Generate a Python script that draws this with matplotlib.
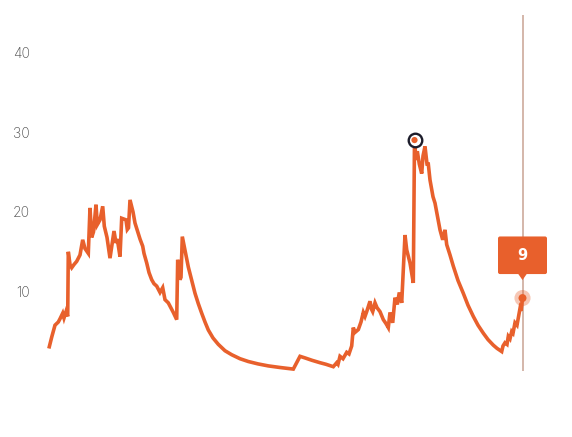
import matplotlib
matplotlib.use("Agg")
import matplotlib.pyplot as plt
from matplotlib.patches import FancyBboxPatch, Polygon
from matplotlib.transforms import IdentityTransform
import numpy as np

# ---- data (day index, value) ----
day = [0.3, 2.7, 6, 9.3, 11, 13.7, 15, 17, 18.7, 19.3, 21, 22.7, 25, 27.7, 31, 33.7, 36, 39.3,
       41, 42.7, 44.5, 47, 48.3, 51, 53.7, 55.3, 58, 61, 65, 67, 68.3, 71, 72.7, 77, 78.3,
       79.5, 81, 84, 86, 88, 91, 93.7, 95, 97.7, 100, 102.7, 105, 107.7, 111, 113.7, 116,
       119.3, 124.3, 127.7, 128.7, 131, 132, 133.3, 136, 139.3, 142.7, 146, 149.3, 152.7,
       156, 159.3, 164, 169.3, 176, 182.7, 191, 199.3, 209, 219.3, 231, 244.3, 251, 256,
       263, 271, 277, 284.3, 287.7, 289, 291, 294, 297.7, 300, 302.7, 304.3, 306, 309.3,
       312, 314.3, 316, 317.7, 319.5, 321, 322.5, 323.7, 326, 328, 331, 334.3, 337, 339.3,
       341, 343.7, 346, 348.3, 350.3, 352.7, 356, 357.7, 361, 364.3, 365.5, 367, 368.3,
       370.3, 372.7, 374, 376, 378, 379.3, 381, 384, 386, 391, 393.7, 396, 397.7, 401,
       404.3, 409, 414.3, 419, 424.3, 429, 434.3, 439, 444.3, 448, 452.7, 454, 456, 458,
       459.3, 461, 462.7, 464, 466, 468, 469.3, 471, 472, 473.5]
price = [3.1, 4.3, 5.8, 6.2, 6.6, 7.3, 6.7, 7.5, 6.9, 15.0, 13.4, 13.0, 13.4, 13.8, 14.6,
         16.5, 15.4, 14.8, 20.5, 16.8, 17.5, 20.9, 18.4, 19.0, 20.7, 18.2, 16.8, 14.2, 17.6,
         16.1, 16.6, 14.4, 19.2, 19.0, 17.8, 18.0, 21.5, 20.0, 18.6, 17.8, 16.6, 15.7, 14.8,
         13.6, 12.4, 11.5, 11.0, 10.7, 9.9, 10.5, 9.0, 8.6, 7.4, 6.5, 14.0, 11.5, 11.8, 16.9,
         15.2, 13.1, 11.4, 9.8, 8.5, 7.3, 6.2, 5.2, 4.2, 3.4, 2.6, 2.1, 1.6, 1.25, 0.95, 0.7,
         0.5, 0.3, 1.9, 1.7, 1.4, 1.1, 0.9, 0.6, 1.1, 0.9, 1.9, 1.6, 2.4, 2.2, 3.2, 5.5, 4.9,
         5.25, 6.2, 7.4, 6.9, 7.5, 8.2, 8.8, 7.8, 7.5, 8.6, 8.0, 7.5, 6.5, 6.0, 5.5, 7.4, 6.1,
         9.25, 8.4, 9.9, 8.6, 17.1, 15.25, 13.6, 11.1, 29.0, 26.5, 27.6, 26.0, 24.8, 27.0,
         28.2, 26.0, 26.0, 24.0, 21.9, 21.1, 17.75, 16.5, 17.75, 15.9, 14.6, 13.2, 11.4, 9.8,
         8.3, 6.9, 5.8, 4.8, 4.0, 3.3, 2.9, 2.5, 3.2, 3.6, 3.4, 4.4, 4.1, 5.0, 4.8, 6.1, 5.8,
         6.7, 7.9, 7.6, 9.2]
yticks = [10, 20, 30, 40]
tooltip_label = "9"

ORANGE = "#E8602C"
DARK = "#1d1d2b"
TAN = "#c9a393"

fig = plt.figure(figsize=(5.72, 4.37), dpi=100)
ax = fig.add_axes([0, 0, 1, 1])
ax.set_xlim(-49, 523)
ax.set_ylim(-8.21, 46.55)
for s in ax.spines.values():
    s.set_visible(False)
ax.set_xticks([])
ax.set_yticks(yticks)
ax.set_yticklabels([str(t) for t in yticks], family="Inter", fontsize=10,
                   color="#4a4a4a", fontweight="light")
ax.tick_params(axis="y", length=0, pad=-21.6)
ax.set_facecolor("white")

x = np.array(day)
y = np.array(price)

# vertical hover line at last point
ax.vlines(x[-1], 0, 44.7, color=TAN, linewidth=1.1, zorder=1)

ax.plot(x, y, color=ORANGE, linewidth=2.6, solid_joinstyle="miter", zorder=3)

# peak marker
i_max = int(np.argmax(y))
ax.scatter([x[i_max]], [y[i_max]], s=95, facecolor="white", edgecolor=DARK,
           linewidth=1.7, zorder=5)
ax.scatter([x[i_max]], [y[i_max]], s=20, facecolor=ORANGE, edgecolor="none", zorder=6)

# end marker with halo
ax.scatter([x[-1]], [y[-1]], s=135, facecolor=ORANGE, alpha=0.35, edgecolor="none", zorder=5)
ax.scatter([x[-1]], [y[-1]], s=33, facecolor=ORANGE, edgecolor="none", zorder=6)

# tooltip (in display pixels relative to last point)
fig.canvas.draw()
px, py = ax.transData.transform((x[-1], y[-1]))
bw, bh = 49, 37.6
b0 = 24.0
box = FancyBboxPatch((px - bw / 2 + 2, py + b0 + 2), bw - 4, bh - 4,
                     boxstyle="round,pad=2,rounding_size=2", transform=IdentityTransform(),
                     facecolor=ORANGE, edgecolor="none", zorder=7)
fig.patches.append(box)
tri = Polygon([[px - 4.5, py + b0 + 0.5], [px + 4.5, py + b0 + 0.5], [px, py + 18]],
              closed=True, transform=IdentityTransform(), facecolor=ORANGE,
              edgecolor="none", zorder=7)
fig.patches.append(tri)
fig.text(px / fig.bbox.width, (py + b0 + bh / 2) / fig.bbox.height, tooltip_label,
         ha="center", va="center", color="white", fontsize=10.5, fontweight="bold",
         family="DejaVu Sans", zorder=8)

fig.savefig("out.png", dpi=100, facecolor="white")
